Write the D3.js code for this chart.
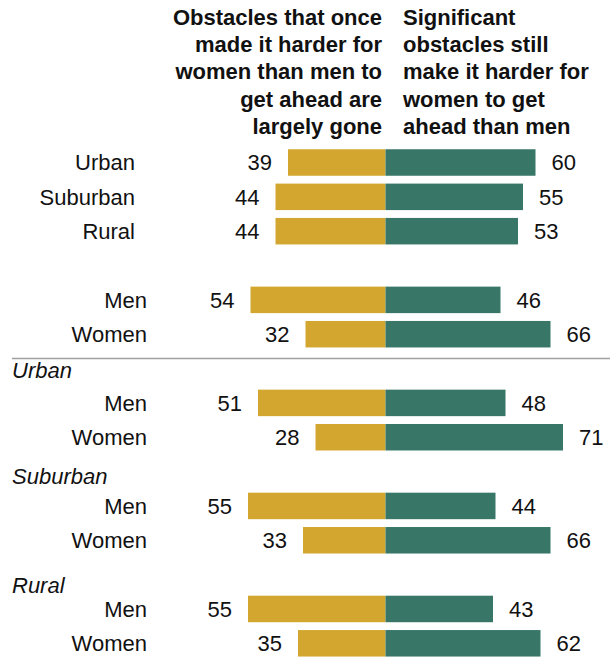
<!DOCTYPE html>
<html>
<head>
<meta charset="utf-8">
<script src="https://cdn.jsdelivr.net/npm/d3@7"></script>
<style>
  html, body { margin: 0; padding: 0; background: #fff; }
  svg { display: block; }
  text { font-family: "Liberation Sans", Arial, sans-serif; fill: #111; }
</style>
</head>
<body>
<div id="chart"></div>
<script>
// ---- data ----
const rowLabels = ["Urban", "Suburban", "Rural", "Men", "Women", "Men", "Women", "Men", "Women", "Men", "Women"];
const rowSlots  = [0, 1, 2, 4, 5, 7, 8, 10, 11, 13, 14];
const goneValues  = [39, 44, 44, 54, 32, 51, 28, 55, 33, 55, 35];
const stillValues = [60, 55, 53, 46, 66, 48, 71, 44, 66, 43, 62];
const groupHeaders = ["Urban", "Suburban", "Rural"];
const groupHeaderSlots = [7, 10, 13];
const leftTitle  = ["Obstacles that once", "made it harder for", "women than men to", "get ahead are", "largely gone"];
const rightTitle = ["Significant", "obstacles still", "make it harder for", "women to get", "ahead than men"];

// ---- layout ----
const W = 613, H = 658;
const cx = 385.5;
const goldColor = "#D3A72F", greenColor = "#387767";

const svg = d3.select("#chart").append("svg").attr("width", W).attr("height", H);

const x = d3.scaleLinear().domain([0, 100]).range([0, 250]);
const y = d3.scaleLinear().domain([0, 14]).range([162.5, 643.3]);
const barH = 26.5;

const rows = rowLabels.map((l, i) => ({ label: l, slot: rowSlots[i], gone: goneValues[i], still: stillValues[i], top: i < 3 }));

// titles
const titleG = svg.append("g").style("font-weight", "bold").style("font-size", "22px");
titleG.selectAll("text.lt").data(leftTitle).join("text")
  .attr("class", "lt")
  .attr("x", 382).attr("y", (d, i) => 25 + i * 27.2)
  .attr("text-anchor", "end").text(d => d);
titleG.selectAll("text.rt").data(rightTitle).join("text")
  .attr("class", "rt")
  .attr("x", 403).attr("y", (d, i) => 25 + i * 27.2)
  .attr("text-anchor", "start").text(d => d);

// bars
svg.append("g").selectAll("rect").data(rows).join("rect")
  .attr("x", d => cx - x(d.gone)).attr("y", d => y(d.slot) - barH / 2)
  .attr("width", d => x(d.gone)).attr("height", barH).attr("fill", goldColor);
svg.append("g").selectAll("rect").data(rows).join("rect")
  .attr("x", cx).attr("y", d => y(d.slot) - barH / 2)
  .attr("width", d => x(d.still)).attr("height", barH).attr("fill", greenColor);

// value labels
const lab = svg.append("g").style("font-size", "22px");
lab.selectAll("text.gv").data(rows).join("text")
  .attr("class", "gv")
  .attr("x", d => cx - x(d.gone) - 16).attr("y", d => y(d.slot)).attr("dy", "0.36em")
  .attr("text-anchor", "end").text(d => d.gone);
lab.selectAll("text.sv").data(rows).join("text")
  .attr("class", "sv")
  .attr("x", d => cx + x(d.still) + 16).attr("y", d => y(d.slot)).attr("dy", "0.36em")
  .attr("text-anchor", "start").text(d => d.still);

// row labels
lab.selectAll("text.rl").data(rows).join("text")
  .attr("class", "rl")
  .attr("x", d => d.top ? 135 : 147).attr("y", d => y(d.slot)).attr("dy", "0.36em")
  .attr("text-anchor", "end").text(d => d.label);

// separator
svg.append("line").attr("x1", 12).attr("x2", 610)
  .attr("y1", 358.5).attr("y2", 358.5)
  .attr("stroke", "#a0a0a0").attr("stroke-width", 1.5);

// group headers
const hdrOffsets = [24.5, 22, 15.5];
lab.selectAll("text.gh").data(groupHeaders).join("text")
  .attr("class", "gh")
  .attr("x", 12).attr("y", (d, i) => y(groupHeaderSlots[i]) - hdrOffsets[i])
  .style("font-style", "italic").text(d => d);
</script>
</body>
</html>
